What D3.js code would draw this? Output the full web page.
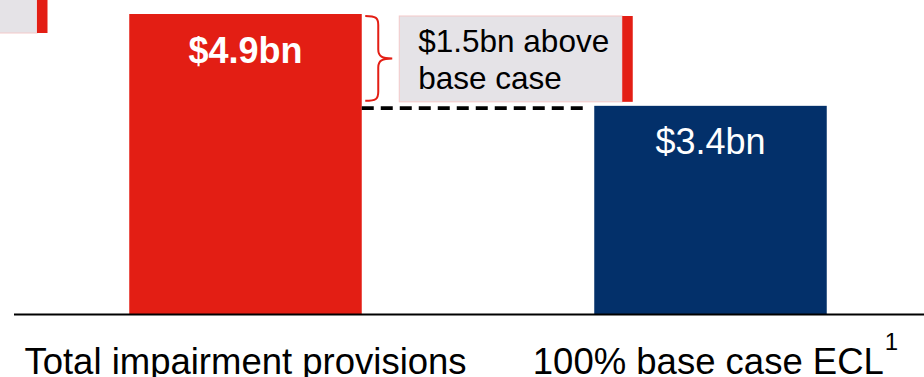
<!DOCTYPE html>
<html>
<head>
<meta charset="utf-8">
<script src="https://cdn.jsdelivr.net/npm/d3@7"></script>
<style>
  html, body { margin: 0; padding: 0; background: #ffffff; }
  svg { display: block; font-family: "Liberation Sans", Arial, sans-serif; }
</style>
</head>
<body>
<svg id="chart" width="924" height="377"></svg>
<script>
// Provisions compared with the base-case expected credit loss (US$ bn)
const categories = ["Total impairment provisions", "100% base case ECL"];
const values = [4.9, 3.4];
const valueLabels = ["$4.9bn", "$3.4bn"];
const labelBold = [true, false];
const barColors = ["#e31e14", "#03306a"];
const calloutLines = ["$1.5bn above", "base case"];
const footnoteMark = "1";

const W = 924, H = 377;
const svg = d3.select("#chart");

const x = d3.scaleBand()
  .domain(categories)
  .range([13, 943])
  .paddingInner(0.5)
  .paddingOuter(0.25);

const y = d3.scaleLinear()
  .domain([0, d3.max(values)])
  .range([314, 14]);

const RED = "#e31e14";
const GREY = "#e5e3e7";
const EDGE = "#f3c9c9";

// partially visible call-out box at the top left
svg.append("rect")
  .attr("x", -200).attr("y", -10).attr("width", 237).attr("height", 43)
  .attr("fill", GREY).attr("stroke", EDGE).attr("stroke-width", 1);
svg.append("rect")
  .attr("x", 37).attr("y", -10).attr("width", 10.5).attr("height", 43)
  .attr("fill", RED);

// bars
svg.append("g").selectAll("rect")
  .data(values)
  .join("rect")
  .attr("x", (d, i) => x(categories[i]))
  .attr("y", d => y(d))
  .attr("width", x.bandwidth())
  .attr("height", d => y(0) - y(d))
  .attr("fill", (d, i) => barColors[i]);

// value labels inside the bars
svg.append("g").selectAll("text")
  .data(values)
  .join("text")
  .attr("x", (d, i) => x(categories[i]) + x.bandwidth() / 2)
  .attr("y", d => y(d) + 48.5)
  .attr("text-anchor", "middle")
  .attr("fill", "#ffffff")
  .attr("font-size", 36)
  .attr("font-weight", (d, i) => labelBold[i] ? "bold" : "normal")
  .text((d, i) => valueLabels[i]);

// baseline axis
const axis = d3.axisBottom(x).tickSize(0).tickPadding(0);
const gx = svg.append("g").attr("transform", `translate(0,${y(0)})`).call(axis);
gx.select(".domain").remove();
gx.selectAll(".tick text").remove();
svg.append("line")
  .attr("x1", 14).attr("x2", W)
  .attr("y1", y(0) + 0.5).attr("y2", y(0) + 0.5)
  .attr("stroke", "#000").attr("stroke-width", 2);

// category labels
gx.selectAll(".tick").append("text")
  .attr("y", 59.5)
  .attr("text-anchor", "middle")
  .attr("fill", "#000")
  .attr("font-size", 36.5)
  .attr("font-family", "'Liberation Sans', Arial, sans-serif")
  .each(function(d, i) {
    const t = d3.select(this);
    t.append("tspan").text(d);
    if (i === 1) {
      t.append("tspan")
        .attr("dx", 1)
        .attr("dy", -24)
        .attr("font-size", 24)
        .text(footnoteMark);
    }
  });
// keep the base-case label centred on its text body, not the footnote
gx.selectAll(".tick").filter((d, i) => i === 1).select("text").attr("x", 5);

// dashed connector at the base-case level
const leftEdge = x(categories[0]) + x.bandwidth();
const rightEdge = x(categories[1]);
svg.append("line")
  .attr("x1", leftEdge).attr("x2", rightEdge - 6)
  .attr("y1", y(values[1]) + 2.2).attr("y2", y(values[1]) + 2.2)
  .attr("stroke", "#000").attr("stroke-width", 3.8)
  .attr("stroke-dasharray", "12,7");

// brace spanning the difference
const bx = leftEdge + 3.5;
const bTop = y(values[0]) + 2;
const bBot = y(values[1]) - 5;
const bMid = (bTop + bBot) / 2;
const bIn = bx + 13, bTip = bx + 27;
const brace = d3.path();
brace.moveTo(bx, bTop);
brace.bezierCurveTo(bIn - 2, bTop, bIn, bTop + 2, bIn, bTop + 9);
brace.lineTo(bIn, bMid - 9);
brace.bezierCurveTo(bIn, bMid - 2, bIn + 4, bMid, bTip, bMid);
brace.bezierCurveTo(bIn + 4, bMid, bIn, bMid + 2, bIn, bMid + 9);
brace.lineTo(bIn, bBot - 9);
brace.bezierCurveTo(bIn, bBot - 2, bIn - 2, bBot, bx, bBot);
svg.append("path")
  .attr("d", brace.toString())
  .attr("fill", "none")
  .attr("stroke", RED)
  .attr("stroke-width", 2);

// call-out box with the difference
const cx0 = bx + 34, cy0 = bTop, cW = 223, cH = bBot - bTop + 1;
svg.append("rect")
  .attr("x", cx0).attr("y", cy0).attr("width", cW).attr("height", cH)
  .attr("fill", GREY).attr("stroke", EDGE).attr("stroke-width", 1);
svg.append("rect")
  .attr("x", cx0 + cW).attr("y", cy0).attr("width", 10.5).attr("height", cH)
  .attr("fill", RED);
svg.append("g").selectAll("text")
  .data(calloutLines)
  .join("text")
  .attr("x", cx0 + 19)
  .attr("y", (d, i) => cy0 + 36 + i * 37)
  .attr("fill", "#000")
  .attr("font-size", 31.5)
  .text(d => d);
</script>
</body>
</html>
